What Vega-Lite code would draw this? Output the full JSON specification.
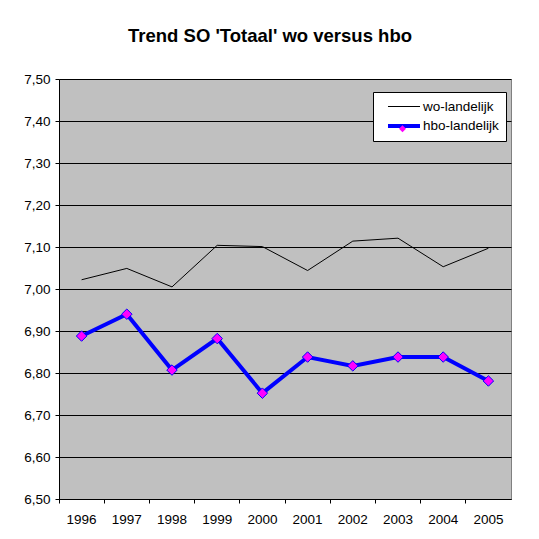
{
  "$schema": "https://vega.github.io/schema/vega-lite/v6.json",
  "autosize": {"type": "none"},
  "padding": {"left": 59, "top": 79, "right": 28, "bottom": 40},
  "width": 452,
  "height": 420,
  "background": "#FFFFFF",
  "title": {
    "text": "Trend SO 'Totaal' wo versus hbo",
    "font": "Liberation Sans",
    "fontSize": 18.5,
    "fontWeight": "bold",
    "color": "#000000",
    "anchor": "middle",
    "frame": "group",
    "baseline": "alphabetic",
    "offset": 12,
    "dx": -15
  },
  "config": {
    "view": {"fill": "#C0C0C0", "stroke": "#808080", "strokeWidth": 1},
    "axis": {
      "labelFont": "Liberation Sans",
      "labelFontSize": 13.5,
      "labelColor": "#000000",
      "domainColor": "#000000",
      "tickColor": "#000000",
      "tickSize": 4,
      "gridColor": "#000000",
      "gridOpacity": 1,
      "gridWidth": 1,
      "title": null
    }
  },
  "data": {
    "values": [
      {"year": "1996", "series": "wo-landelijk", "value": 7.022},
      {"year": "1997", "series": "wo-landelijk", "value": 7.049},
      {"year": "1998", "series": "wo-landelijk", "value": 7.005},
      {"year": "1999", "series": "wo-landelijk", "value": 7.104},
      {"year": "2000", "series": "wo-landelijk", "value": 7.101},
      {"year": "2001", "series": "wo-landelijk", "value": 7.044},
      {"year": "2002", "series": "wo-landelijk", "value": 7.114},
      {"year": "2003", "series": "wo-landelijk", "value": 7.121},
      {"year": "2004", "series": "wo-landelijk", "value": 7.053},
      {"year": "2005", "series": "wo-landelijk", "value": 7.097},
      {"year": "1996", "series": "hbo-landelijk", "value": 6.888},
      {"year": "1997", "series": "hbo-landelijk", "value": 6.940},
      {"year": "1998", "series": "hbo-landelijk", "value": 6.807},
      {"year": "1999", "series": "hbo-landelijk", "value": 6.882},
      {"year": "2000", "series": "hbo-landelijk", "value": 6.752},
      {"year": "2001", "series": "hbo-landelijk", "value": 6.838},
      {"year": "2002", "series": "hbo-landelijk", "value": 6.817},
      {"year": "2003", "series": "hbo-landelijk", "value": 6.838},
      {"year": "2004", "series": "hbo-landelijk", "value": 6.838},
      {"year": "2005", "series": "hbo-landelijk", "value": 6.781}
    ]
  },
  "encoding": {
    "x": {
      "field": "year",
      "type": "ordinal",
      "scale": {"type": "band", "paddingInner": 0, "paddingOuter": 0},
      "axis": {"labelAngle": 0, "bandPosition": 0, "labelPadding": 9, "grid": false}
    },
    "y": {
      "field": "value",
      "type": "quantitative",
      "scale": {"domain": [6.5, 7.5], "nice": false, "zero": false},
      "axis": {
        "values": [6.5, 6.6, 6.7, 6.8, 6.9, 7.0, 7.1, 7.2, 7.3, 7.4, 7.5],
        "labelExpr": "replace(format(datum.value, '.2f'), '.', ',')",
        "labelPadding": 5,
        "grid": true
      }
    }
  },
  "layer": [
    {
      "mark": {"type": "line", "strokeJoin": "miter"},
      "encoding": {
        "color": {
          "field": "series",
          "type": "nominal",
          "sort": ["wo-landelijk", "hbo-landelijk"],
          "scale": {"domain": ["wo-landelijk", "hbo-landelijk"], "range": ["#000000", "#0000FF"]},
          "legend": {
            "title": null,
            "orient": "none",
            "legendX": 314,
            "legendY": 13,
            "padding": 7,
            "fillColor": "#FFFFFF",
            "strokeColor": "#000000",
            "cornerRadius": 0,
            "symbolType": "M-0.143,0H4.429",
            "symbolSize": 196,
            "labelFont": "Liberation Sans",
            "labelFontSize": 13.5,
            "labelColor": "#000000",
            "labelOffset": 25,
            "rowPadding": 4,
            "zindex": 1
          }
        },
        "strokeWidth": {
          "field": "series",
          "type": "nominal",
          "sort": ["wo-landelijk", "hbo-landelijk"],
          "scale": {"domain": ["wo-landelijk", "hbo-landelijk"], "range": [1, 4]},
          "legend": null
        },
        "order": {"field": "year"}
      }
    },
    {
      "transform": [{"filter": "datum.series == 'hbo-landelijk'"}],
      "mark": {"type": "point", "filled": true, "fill": "#FF00FF", "stroke": "#0000FF", "strokeWidth": 1, "size": 110, "opacity": 1},
      "encoding": {
        "shape": {
          "field": "series",
          "type": "nominal",
          "scale": {"domain": ["hbo-landelijk"], "range": ["diamond"]},
          "legend": {
            "title": null,
            "orient": "none",
            "legendX": 338.5,
            "legendY": 44.8,
            "padding": 0,
            "symbolSize": 49,
            "symbolFillColor": "#FF00FF",
            "symbolStrokeColor": "#0000FF",
            "symbolStrokeWidth": 1,
            "symbolOpacity": 1,
            "labelExpr": "''",
            "zindex": 2
          }
        }
      }
    }
  ]
}
